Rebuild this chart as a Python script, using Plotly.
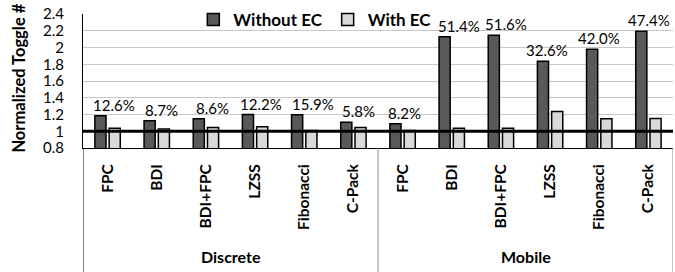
import plotly.graph_objects as go

# ---- data ----
algorithms = ["FPC", "BDI", "BDI+FPC", "LZSS", "Fibonacci", "C-Pack"]
groups = ["Discrete", "Mobile"]
tick_labels = algorithms + algorithms

without_ec = [1.185, 1.125, 1.149, 1.200, 1.197, 1.108,
              1.089, 2.128, 2.145, 1.836, 1.980, 2.193]
with_ec = [1.036, 1.027, 1.045, 1.053, 1.008, 1.044,
           1.010, 1.036, 1.036, 1.236, 1.149, 1.152]
reduction_pct = [12.6, 8.7, 8.6, 12.2, 15.9, 5.8,
                 8.2, 51.4, 51.6, 32.6, 42.0, 47.4]

y_ticks = [0.8, 1.0, 1.2, 1.4, 1.6, 1.8, 2.0, 2.2, 2.4]

# label horizontal nudges (pixels), styling only
label_dx = [6, 5, 7, 6, 9, 5, 2, 7, 5, -3, 0, 1]

FONT = "Lato"
xs = list(range(len(tick_labels)))
n_per_group = len(algorithms)

fig = go.Figure()
fig.add_trace(go.Bar(
    x=xs, y=without_ec, name="<b>Without EC</b>",
    marker=dict(color="#595959", line=dict(color="#000000", width=1.5)),
    base=0,
))
fig.add_trace(go.Bar(
    x=xs, y=with_ec, name="<b>With EC</b>",
    marker=dict(color="#d9d9d9", line=dict(color="#000000", width=1.5)),
    base=0,
))

annotations = []
for x, v, p, dx in zip(xs, without_ec, reduction_pct, label_dx):
    annotations.append(dict(
        x=x, y=v, xref="x", yref="y", text=f"{p:.1f}%", showarrow=False,
        xshift=dx, yshift=11, yanchor="middle", xanchor="center",
        font=dict(family=FONT, size=15, color="#000000"),
    ))

# group labels
for gi, g in enumerate(groups):
    center = gi * n_per_group + (n_per_group - 1) / 2
    annotations.append(dict(
        x=center, y=-0.813, xref="x", yref="paper", text=f"<b>{g}</b>",
        showarrow=False, yanchor="middle", xanchor="center",
        font=dict(family=FONT, size=16, color="#000000"),
    ))

# y-axis title
annotations.append(dict(
    x=-0.108, y=0.52, xref="paper", yref="paper",
    text="<b>Normalized Toggle #</b>", textangle=-90, showarrow=False,
    xanchor="center", yanchor="middle",
    font=dict(family=FONT, size=16.5, color="#000000"),
))

shapes = []
# group dividers below the axis
for gi in range(len(groups) + 1):
    xb = gi * n_per_group - 0.5
    shapes.append(dict(
        type="line", xref="x", yref="paper", x0=xb, x1=xb, y0=0, y1=-1.0,
        line=dict(color="#000000" if gi == 0 else "#8c8c8c", width=1),
    ))
# baseline at 1
shapes.append(dict(
    type="line", xref="paper", yref="y", x0=0, x1=1, y0=1, y1=1,
    line=dict(color="#000000", width=3), layer="above",
))

fig.update_layout(
    width=675, height=272,
    margin=dict(l=83, r=2, t=14, b=124, autoexpand=False),
    paper_bgcolor="white", plot_bgcolor="white",
    barmode="group", bargap=0.42, bargroupgap=0.22,
    font=dict(family=FONT, size=15, color="#000000"),
    showlegend=True,
    legend=dict(
        orientation="h", x=0.187, y=0.955, xanchor="left", yanchor="middle",
        bgcolor="rgba(0,0,0,0)", font=dict(family=FONT, size=17, color="#000000"),
        traceorder="normal",
    ),
    annotations=annotations,
    shapes=shapes,
)
fig.update_xaxes(
    range=[-0.5, len(xs) - 0.5], tickmode="array", tickvals=xs,
    ticktext=[f"<b>{t}</b>" for t in tick_labels], tickangle=-90,
    ticks="", showgrid=False, zeroline=False,
    showline=True, linecolor="#000000", linewidth=1,
    ticklabelstandoff=9, automargin=False,
    tickfont=dict(family=FONT, size=15.5, color="#000000"),
)
fig.update_yaxes(
    range=[0.8, 2.4], tickmode="array", tickvals=y_ticks,
    ticktext=[f"{v:g}" for v in y_ticks],
    ticks="", showgrid=True, gridcolor="#c8c8c8", gridwidth=1,
    zeroline=False, showline=True, linecolor="#000000", linewidth=1,
    ticklabelstandoff=15, automargin=False,
    tickfont=dict(family=FONT, size=15, color="#000000"),
)

fig.write_html("out.html",
               config={"displayModeBar": False},
               post_script="document.body.style.margin='0';document.body.style.overflow='hidden';")
